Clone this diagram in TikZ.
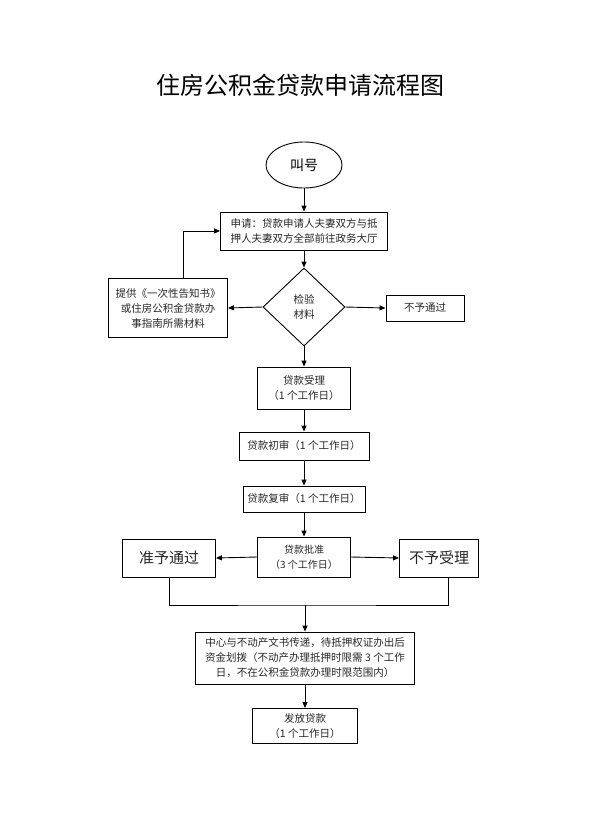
\documentclass[tikz,border=0pt]{standalone}
\usepackage{fontspec}
\newfontfamily\cjk{Noto Sans CJK SC}
\usetikzlibrary{shapes.geometric,arrows.meta}
\tikzset{
  x=1pt, y=-1pt,
  box/.style={draw=black, line width=0.9pt, rectangle, inner sep=0pt, align=center,
    font=\cjk\fontsize{10.5}{15}\selectfont, text=black!85},
  bigbox/.style={box, font=\cjk\fontsize{15}{18}\selectfont},
  conn/.style={draw=black, line width=0.9pt},
  arr/.style={conn, -{Triangle[length=6pt,width=5pt]}}
}
\begin{document}
\begin{tikzpicture}
\useasboundingbox (0,0) rectangle (600,825);
\node[font=\cjk\fontsize{24}{28}\selectfont] (title) at (300,85) {住房公积金贷款申请流程图};
\node[draw=black, line width=0.9pt, ellipse, minimum width=76pt, minimum height=46pt, inner sep=0pt,
      font=\cjk\fontsize{14}{16}\selectfont] (call) at (304,165) {叫号};
\node[box, minimum width=167pt, minimum height=38pt] (apply) at (304,231)
  {申请：贷款申请人夫妻双方与抵\\押人夫妻双方全部前往政务大厅};
\node[box, minimum width=119pt, minimum height=59pt] (provide) at (168,308)
  {提供《一次性告知书》\\或住房公积金贷款办\\事指南所需材料};
\node[box, diamond, minimum width=82pt, minimum height=78pt] (check) at (304,307)
  {检验\\材料};
\node[box, minimum width=78pt, minimum height=26pt] (reject) at (425,308) {不予通过};
\node[box, minimum width=93pt, minimum height=42pt] (accept) at (304,388)
  {贷款受理\\（1 个工作日）};
\node[box, minimum width=130pt, minimum height=28pt] (first) at (304,446)
  {贷款初审（1 个工作日）};
\node[box, minimum width=122pt, minimum height=26pt] (second) at (304,499)
  {贷款复审（1 个工作日）};
\node[box, minimum width=93pt, minimum height=40pt, font=\cjk\fontsize{10}{15}\selectfont] (approve) at (304,557)
  {贷款批准\\（3 个工作日）};
\node[bigbox, minimum width=93pt, minimum height=38pt] (pass) at (169,558) {准予通过};
\node[bigbox, minimum width=79pt, minimum height=38pt] (refuse) at (439,558) {不予受理};
\node[box, minimum width=219pt, minimum height=52pt] (transfer) at (305,658)
  {中心与不动产文书传递，待抵押权证办出后\\资金划拨（不动产办理抵押时限需 3 个工作\\日，不在公积金贷款办理时限范围内）};
\node[box, minimum width=105pt, minimum height=35pt] (release) at (305,726)
  {发放贷款\\（1 个工作日）};
\coordinate (merge) at (305,605);

\draw[arr] (call.south) -- (apply.north);
\draw[arr] (apply.south) -- (check.north);
\draw[arr] (check.west) -- (provide.east);
\draw[arr] (check.east) -- (reject.west);
\draw[arr] ([xshift=15pt]provide.north) |- (apply.west);
\draw[arr] (check.south) -- (accept.north);
\draw[arr] (accept.south) -- (first.north);
\draw[arr] (first.south) -- (second.north);
\draw[arr] (second.south) -- (approve.north);
\draw[arr] (approve.west) -- (pass.east);
\draw[arr] (approve.east) -- (refuse.west);
\draw[conn] (pass.south) |- (merge) -| ([xshift=9pt]refuse.south);
\draw[arr] (merge) -- (transfer.north);
\draw[arr] (transfer.south) -- (release.north);
\end{tikzpicture}
\end{document}
